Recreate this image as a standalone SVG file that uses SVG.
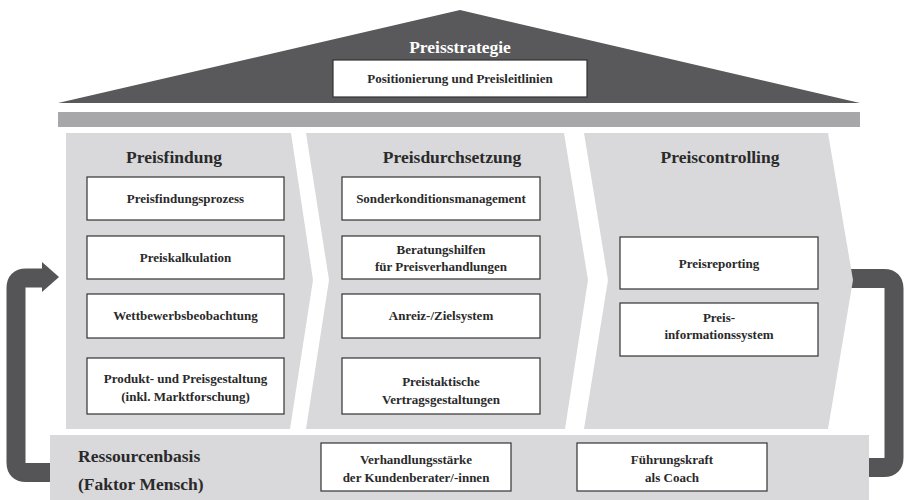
<svg xmlns="http://www.w3.org/2000/svg" width="906" height="500" viewBox="0 0 906 500" font-family="'Liberation Serif', 'DejaVu Serif', serif">
<style>
.col{fill:#d9d9db}
.box{fill:#ffffff;stroke:#333333;stroke-width:1.2}
text{font-family:'Liberation Serif','DejaVu Serif',serif;font-weight:bold;fill:#2a2a2a;text-anchor:middle}
.t{font-size:13px}
.h{font-size:17.5px}
.w{fill:#ffffff}
.l{text-anchor:start}
.arr{fill:none;stroke:#555557;stroke-width:19;stroke-linejoin:round}
</style>
<rect width="906" height="500" fill="#ffffff"/>
<g id="connectors">
<path class="arr" d="M55,472.5 L26,472.5 Q16,472.5 16,462.5 L16,288 Q16,278 26,278 L44,278"/>
<polygon points="42,262 59,277 42,292" fill="#555557"/>
<path class="arr" d="M840,278.5 L884,278.5 Q894,278.5 894,288.5 L894,457.5 Q894,467.5 884,467.5 L860,467.5"/>
</g>
<g id="roof">
<polygon points="460,10 58,103 860,103" fill="#59595b"/>
<text x="460" y="53" class="h w">Preisstrategie</text>
</g>
<g id="positionierung">
<rect x="333" y="60" width="254" height="37" class="box"/>
<text x="460" y="83" class="t">Positionierung und Preisleitlinien</text>
</g>
<g id="bar">
<rect x="58" y="112" width="802" height="15" fill="#a7a7a9"/>
</g>
<g id="preisfindung">
<polygon class="col" points="66,133 291,133 313,280 290,429 66,429"/>
<text x="174" y="163" class="h">Preisfindung</text>
</g>
<g id="preisdurchsetzung">
<polygon class="col" points="306,133 564,133 588,280 565,429 306,429 329,280"/>
<text x="452" y="163" class="h">Preisdurchsetzung</text>
</g>
<g id="preiscontrolling">
<polygon class="col" points="584,133 828,133 853,280 828,429 584,429 608,280"/>
<text x="720" y="163" class="h">Preiscontrolling</text>
</g>
<g id="ressourcenbasis">
<rect class="col" x="50" y="435" width="819" height="65"/>
<text x="78" y="462" class="h l">Ressourcenbasis</text>
<text x="78" y="490" class="h l">(Faktor Mensch)</text>
</g>
<g id="preisfindungsprozess">
<rect x="87" y="177" width="197" height="43" class="box"/>
<text x="185.5" y="203" class="t">Preisfindungsprozess</text>
</g>
<g id="preiskalkulation">
<rect x="87" y="236" width="197" height="43" class="box"/>
<text x="185.5" y="262" class="t">Preiskalkulation</text>
</g>
<g id="wettbewerbsbeobachtung">
<rect x="87" y="294" width="197" height="44" class="box"/>
<text x="185.5" y="320" class="t">Wettbewerbsbeobachtung</text>
</g>
<g id="produktgestaltung">
<rect x="87" y="358" width="197" height="56" class="box"/>
<text x="185.5" y="383" class="t">Produkt- und Preisgestaltung</text>
<text x="185.5" y="401" class="t">(inkl. Marktforschung)</text>
</g>
<g id="sonderkonditionsmanagement">
<rect x="342" y="177" width="198" height="43" class="box"/>
<text x="441" y="203" class="t">Sonderkonditionsmanagement</text>
</g>
<g id="beratungshilfen">
<rect x="342" y="236" width="198" height="43" class="box"/>
<text x="441" y="254" class="t">Beratungshilfen</text>
<text x="441" y="271" class="t">für Preisverhandlungen</text>
</g>
<g id="anreizsystem">
<rect x="342" y="294" width="198" height="44" class="box"/>
<text x="441" y="320" class="t">Anreiz-/Zielsystem</text>
</g>
<g id="vertragsgestaltungen">
<rect x="342" y="358" width="198" height="56" class="box"/>
<text x="441" y="386" class="t">Preistaktische</text>
<text x="441" y="404" class="t">Vertragsgestaltungen</text>
</g>
<g id="preisreporting">
<rect x="620" y="237" width="198" height="52" class="box"/>
<text x="719" y="268" class="t">Preisreporting</text>
</g>
<g id="preisinformationssystem">
<rect x="620" y="303" width="198" height="53" class="box"/>
<text x="719" y="322" class="t">Preis-</text>
<text x="719" y="339" class="t">informationssystem</text>
</g>
<g id="verhandlungsstaerke">
<rect x="321" y="443" width="190" height="48" class="box"/>
<text x="416" y="464" class="t">Verhandlungsstärke</text>
<text x="416" y="482" class="t">der Kundenberater/-innen</text>
</g>
<g id="fuehrungskraft">
<rect x="577" y="443" width="190" height="48" class="box"/>
<text x="672" y="464" class="t">Führungskraft</text>
<text x="672" y="482" class="t">als Coach</text>
</g>
</svg>
